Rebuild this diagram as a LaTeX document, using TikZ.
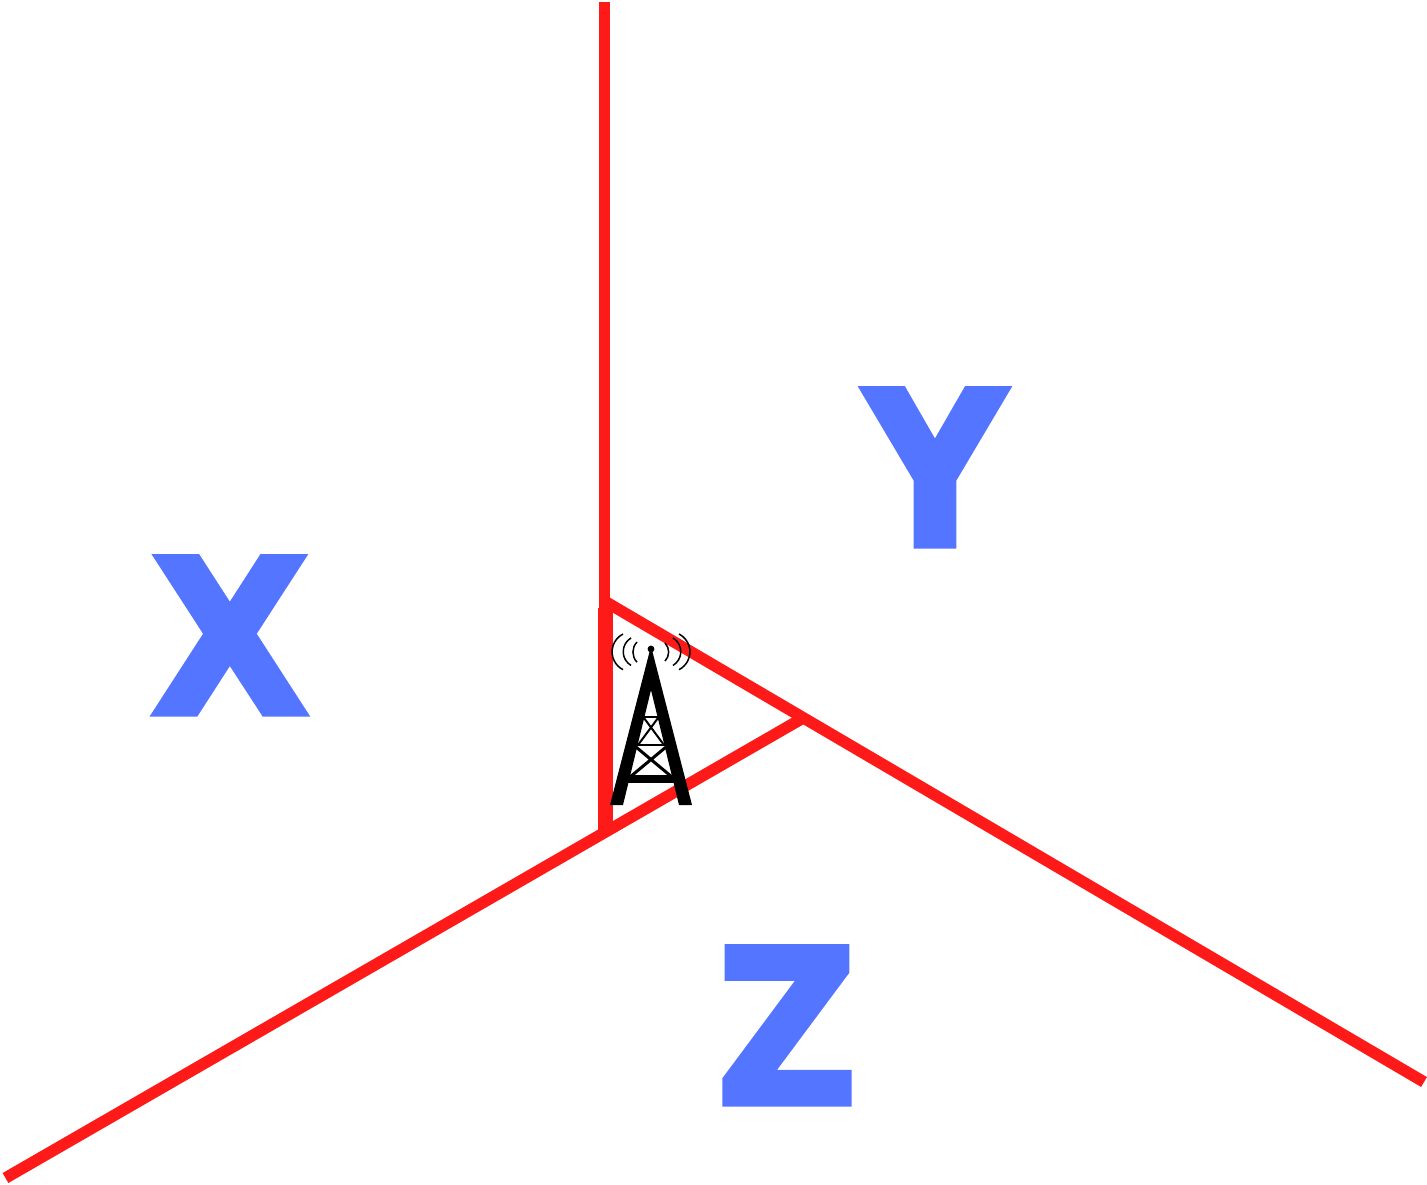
\documentclass[tikz,border=0pt]{standalone}
\usepackage{fontspec}
\setmainfont{DejaVu Sans}
\newfontface\sectorx[FakeBold=3,FakeStretch=0.95]{DejaVu Sans Bold}
\newfontface\sectorrest[FakeBold=3,FakeStretch=0.9]{DejaVu Sans Bold}
\definecolor{wallred}{RGB}{255,26,26}
\definecolor{letterblue}{RGB}{84,117,255}
\begin{document}
\begin{tikzpicture}[x=0.02cm,y=-0.02cm,
    every node/.style={inner sep=0pt},
    wall/.style={draw=wallred,line width=2.3mm},
    sectorname/.style={anchor=base,text=letterblue},
    wave/.style={draw=black,line width=0.3mm}]
  \useasboundingbox (0,0) rectangle (1427,1184);

  % Sektor sinirlari
  \coordinate (top) at (604,2);
  \coordinate (hub) at (606,602);
  \coordinate (foot) at (605.5,834);
  \coordinate (east) at (1424,1082);
  \coordinate (west) at (5.5,1178);
  \coordinate (tip) at (803,718);
  \draw[wall,line width=2.2mm] (top) -- (604,612);
  \draw[wall,line width=3mm] (605.5,608) -- (foot);
  \draw[wall] (hub) -- (east);
  \draw[wall] (west) -- (tip);

  % Sektor adlari
  \node[sectorname,font=\fontsize{122}{122}\sectorx] (sectorx) at (230,713.5) {X};
  \node[sectorname,font=\fontsize{122}{122}\sectorrest] (sectory) at (935,545.5) {Y};
  \node[sectorname,font=\fontsize{122}{122}\sectorrest] (sectorz) at (787,1103.5) {Z};

  % Kule
  \fill (651,649) circle (3.4);
  \fill (650,650) -- (610,805) -- (623,805) -- (651,690) -- (679,805) -- (692,805) -- (652,650) -- cycle;
  \fill (628,775) rectangle (674,783);
  \draw[line width=0.45mm] (636,745) -- (666,745);
  \draw[line width=0.35mm] (643,717) -- (659,717);
  \draw[line width=0.6mm] (636,747) -- (672,777) (666,747) -- (630,777);
  \draw[line width=0.4mm] (644,718) -- (664,745) (658,718) -- (638,745);

  % Dalgalar
  \foreach \sx/\sy/\rad/\from/\to in {623/634/20/-117/-243, 631/638/16/-121/-239, 637/642/14.5/-136/-224,
      679/634/20/-63/63, 673/638/16/-59/59, 665/643/13/-44/44} {
    \draw[wave] (\sx,\sy) arc[start angle=\from,end angle=\to,radius=\rad];
  }
\end{tikzpicture}
\end{document}
